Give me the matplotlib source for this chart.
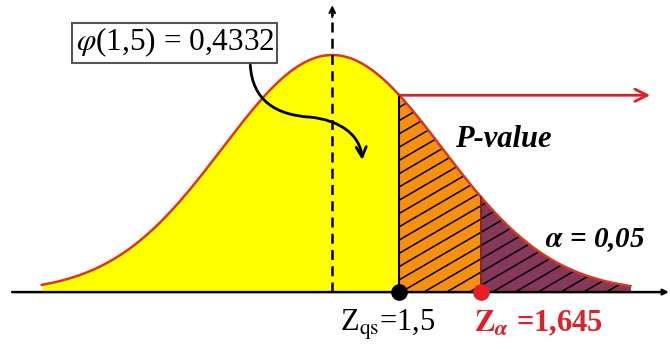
import numpy as np
import matplotlib
matplotlib.use("Agg")
import matplotlib.pyplot as plt
from matplotlib.patches import Polygon, FancyArrowPatch
from matplotlib.path import Path

plt.rcParams['font.family'] = ['Liberation Serif', 'DejaVu Serif']
plt.rcParams['mathtext.fontset'] = 'stix'

# diagram values (drawn positions in sigma units, peak height = 1)
x_lim = (-3.02, 3.07)
y_lim = (-0.24, 1.232)
curve_start, curve_end = -2.64, 2.71
z_qs_pos = 0.61
z_alpha_pos = 1.35
pvalue_arrow_end = 2.89
axis_start, axis_end = -2.91, 3.06
vline_top = 1.21

phi_label = r"$\varphi$(1,5) = 0,4332"
pvalue_label = "P-value"
alpha_label = r"$\boldsymbol{\alpha}$ = 0,05"
zqs_label = r"Z$_{\mathrm{qs}}$=1,5"
zalpha_label = r"$\mathbf{Z}_{\boldsymbol{\alpha}}$ =1,645"

# hatch slope and spacing (data units)
hatch_slope = 0.27
hatch_step = 0.056

yellow = "#FFFF00"
orange = "#F7900F"
dark = "#86385A"
curve_red = "#D8361E"
red = "#E41E26"


def pdf(z):
    return np.exp(-z ** 2 / 2)


fig = plt.figure(figsize=(6.7, 3.49), dpi=100)
ax = fig.add_axes([0, 0, 1, 1])
ax.set_xlim(*x_lim)
ax.set_ylim(*y_lim)
ax.axis('off')

z_left = np.linspace(curve_start, z_qs_pos, 300)
z_mid = np.linspace(z_qs_pos, z_alpha_pos, 150)
z_tail = np.linspace(z_alpha_pos, curve_end, 200)

ax.fill_between(z_left, 0, pdf(z_left), color=yellow, lw=0, zorder=1)
ax.fill_between(z_mid, 0, pdf(z_mid), color=orange, lw=0, zorder=1)
ax.fill_between(z_tail, 0, pdf(z_tail), color=dark, lw=0, zorder=1)

# hatch over the p-value area
z_hatch = np.linspace(z_qs_pos, curve_end, 400)
clip_verts = np.vstack([np.column_stack([z_hatch, pdf(z_hatch)]),
                        [[curve_end, 0], [z_qs_pos, 0]]])
clip_poly = Polygon(clip_verts, closed=True, fc='none', ec='none')
ax.add_patch(clip_poly)
zz = np.array([z_qs_pos - 0.1, curve_end + 0.1])
for c in np.arange(-0.9, 1.0, hatch_step):
    ln, = ax.plot(zz, c + hatch_slope * (zz - z_qs_pos), color='black', lw=1.1, zorder=2)
    ln.set_clip_path(clip_poly)

# curve
z_all = np.linspace(curve_start, curve_end, 600)
ax.plot(z_all, pdf(z_all), color=curve_red, lw=1.8, zorder=3)

# verticals at critical points
ax.plot([z_qs_pos, z_qs_pos], [0, pdf(z_qs_pos)], color='black', lw=1.5, zorder=3)
ax.plot([z_alpha_pos, z_alpha_pos], [0, pdf(z_alpha_pos)], color='#7A1E1E', lw=1.3, zorder=3)

# horizontal axis
ax.annotate("", xy=(axis_end, 0), xytext=(axis_start, 0),
            arrowprops=dict(arrowstyle="-|>", color='black', lw=1.8,
                            mutation_scale=8, shrinkA=0, shrinkB=0), zorder=4)

# dashed centre line
ax.plot([0, 0], [0, vline_top - 0.02], color='black', lw=1.8, ls=(0, (4, 2.5)), zorder=3)
ax.annotate("", xy=(0, vline_top), xytext=(0, vline_top - 0.05),
            arrowprops=dict(arrowstyle="->", color='black', lw=1.5,
                            mutation_scale=10, shrinkA=0, shrinkB=0), zorder=4)

# red arrow from p-value boundary
ax.annotate("", xy=(pvalue_arrow_end, pdf(z_qs_pos)), xytext=(z_qs_pos, pdf(z_qs_pos)),
            arrowprops=dict(arrowstyle="->", color=red, lw=2,
                            mutation_scale=22, shrinkA=0, shrinkB=0), zorder=4)

# points on the axis
ax.plot(z_qs_pos, 0, 'o', color='black', ms=11, zorder=5)
ax.plot(z_alpha_pos, 0, 'o', color=red, ms=11, zorder=5)

# labels
ax.text(-1.43, 1.052, phi_label, fontsize=22.5, ha='center', va='center',
        bbox=dict(boxstyle='square,pad=0.1', fc='white', ec='#555555', lw=1.5), zorder=6)
ax.text(1.12, 0.645, pvalue_label, fontsize=22, fontweight='bold', fontstyle='italic',
        ha='left', va='center', zorder=6)
ax.text(1.93, 0.22, alpha_label, fontsize=21, fontweight='bold', fontstyle='italic',
        ha='left', va='center', zorder=6)
ax.text(0.07, -0.14, zqs_label, fontsize=22, ha='left', va='center', zorder=6)
ax.text(1.29, -0.135, zalpha_label, fontsize=22, fontweight='bold', color=red,
        ha='left', va='center', zorder=6)

# curved pointer from the box into the yellow area
pts = [(-0.745, 0.958), (-0.727, 0.81), (-0.518, 0.747), (-0.2, 0.738),
       (0.073, 0.725), (0.255, 0.662), (0.273, 0.557)]
codes = [Path.MOVETO, Path.CURVE4, Path.CURVE4, Path.CURVE4,
         Path.CURVE4, Path.CURVE4, Path.CURVE4]
arrow = FancyArrowPatch(path=Path(pts, codes), arrowstyle="->", color='black',
                        lw=2, mutation_scale=18, zorder=6)
ax.add_patch(arrow)

fig.savefig("out.png", dpi=100)
